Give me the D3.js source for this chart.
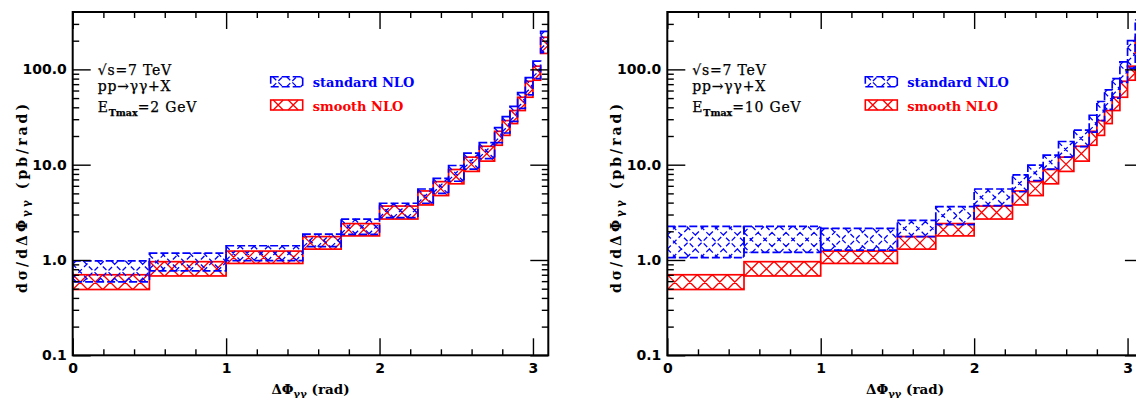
<!DOCTYPE html>
<html><head><meta charset="utf-8">
<script src="https://cdn.jsdelivr.net/npm/d3@7"></script>
<style>body{margin:0;background:#fff;overflow:hidden} svg{display:block}</style>
</head><body><svg id="c" width="1136" height="398"></svg>
<script>
// ---- data ----
const binEdges = [0, 0.5, 1.0, 1.5, 1.75, 2.0, 2.25, 2.35, 2.45, 2.55, 2.65, 2.75, 2.8, 2.85, 2.9, 2.95, 3.0, 3.05, 3.1];
// smooth NLO band (same in both panels)
const smoothLo = [0.49, 0.68, 0.92, 1.30, 1.79, 2.69, 3.78, 4.74, 6.3, 8.5, 10.9, 16, 20.3, 27, 37, 51, 77, 147];
const smoothHi = [0.70, 0.96, 1.24, 1.76, 2.41, 3.68, 5.3, 6.64, 8.9, 12, 15.6, 22.4, 29, 37, 51, 75, 108, 217];
// standard NLO band, E_Tmax = 2 GeV
const std2Lo = [0.59, 0.77, 0.985, 1.38, 1.86, 2.78, 3.94, 5.0, 6.7, 9.0, 11.6, 17, 21.5, 28.5, 39, 54, 80, 150];
const std2Hi = [0.98, 1.18, 1.41, 1.87, 2.69, 3.94, 5.56, 7.2, 9.8, 13.2, 17, 24.5, 32, 41, 57, 82, 122, 250];
// standard NLO band, E_Tmax = 10 GeV
const std10Lo = [1.06, 1.2, 1.27, 1.76, 2.35, 3.72, 5.2, 6.8, 9.0, 12, 15.5, 22, 29, 38, 50, 73, 103, 180];
const std10Hi = [2.25, 2.25, 2.15, 2.6, 3.63, 5.56, 7.8, 9.9, 12.6, 17.5, 23, 33, 46, 61, 80, 120, 200, 330];

const xTickValues = [0, 1, 2, 3];
const xMinorValues = d3.range(0, 3.11, 0.2).filter(v => Math.abs(v - Math.round(v)) > 1e-6);
const yTickValues = [0.1, 1, 10, 100];
const yTickLabels = ["0.1", "1.0", "10.0", "100.0"];
const legendLabels = ["standard NLO", "smooth NLO"];
const noteLines = ["\u221As=7 TeV", "pp\u2192\u03B3\u03B3+X"];
const etMaxValues = ["=2 GeV", "=10 GeV"];

// ---- layout ----
const svg = d3.select("#c");
const W = 475.6, TOP = 12, H = 343.3;
const RED = "#ff0000", BLUE = "#0000ff";
const x = d3.scaleLinear().domain([0, 3.1]).range([0, W]);
const y = d3.scaleLog().domain([0.1, 400]).range([H, 0]);
const yMinor = [];
[0.1, 1, 10, 100].forEach(d => { for (let k = 2; k <= 9; k++) { const v = k * d; if (v < 400) yMinor.push(v); } });

function hatch(x0, x1, y0, y1, p) {
  const h = y1 - y0; let d = "";
  if (h <= 0) return d;
  const n0 = Math.floor((-h - p) / p), n1 = Math.ceil((x1 - x0 + h + p) / p);
  const seg = (a, down) => {
    const t0 = Math.max(0, (x0 - a) / h), t1 = Math.min(1, (x1 - a) / h);
    if (t1 <= t0) return "";
    const ya = down ? y0 : y1, yb = down ? y1 : y0;
    const p0 = [a + t0 * h, ya + (yb - ya) * t0], p1 = [a + t1 * h, ya + (yb - ya) * t1];
    return `M${p0[0].toFixed(2)},${p0[1].toFixed(2)}L${p1[0].toFixed(2)},${p1[1].toFixed(2)}`;
  };
  for (let k = n0; k <= n1; k++) {
    const xc = x0 + p / 2 + k * p;
    d += seg(xc - h / 2, true) + seg(xc - h / 2, false);
  }
  return d;
}

function drawBand(g, lo, hi, color, dashed, period) {
  const bins = lo.map((v, i) => ({ x0: binEdges[i], x1: binEdges[i + 1], lo: v, hi: hi[i] }));
  const gg = g.append("g");
  bins.forEach(b => {
    const X0 = x(b.x0), X1 = x(b.x1), Y0 = y(b.hi), Y1 = y(b.lo);
    gg.append("path").attr("d", hatch(X0, X1, Y0, Y1, period))
      .attr("stroke", color).attr("stroke-width", 1.3).attr("fill", "none")
      .attr("stroke-dasharray", dashed ? "5,3" : null);
    gg.append("rect").attr("x", X0).attr("y", Y0).attr("width", X1 - X0).attr("height", Y1 - Y0)
      .attr("fill", "none").attr("stroke", color).attr("stroke-width", 1.7)
      .attr("stroke-dasharray", dashed ? "8,3" : null);
  });
}

const panels = [
  { left: 72.7, lo: std2Lo, hi: std2Hi, et: etMaxValues[0] },
  { left: 667.3, lo: std10Lo, hi: std10Hi, et: etMaxValues[1] }
];

panels.forEach((P, pi) => {
  const g = svg.append("g").attr("transform", `translate(${P.left},${TOP})`);
  const cid = "clip" + pi;
  g.append("clipPath").attr("id", cid).append("rect").attr("x", 0).attr("y", 0).attr("width", W).attr("height", H);
  const marks = g.append("g").attr("clip-path", `url(#${cid})`);
  drawBand(marks, smoothLo, smoothHi, RED, false, 15);
  drawBand(marks, P.lo, P.hi, BLUE, true, 14);

  const styleAxis = sel => { sel.select(".domain").remove(); sel.selectAll(".tick line").attr("stroke", "#000").attr("stroke-width", 1.4); };
  g.append("g").attr("transform", `translate(0,${H})`)
    .call(d3.axisBottom(x).tickValues(xTickValues).tickSize(-17).tickPadding(8).tickFormat(d3.format("d")))
    .call(styleAxis)
    .selectAll("text").attr("font-family", "DejaVu Sans").attr("font-weight", "bold").attr("font-size", 14).attr("fill", "#000");
  g.append("g").attr("transform", `translate(0,${H})`)
    .call(d3.axisBottom(x).tickValues(xMinorValues).tickSize(-6).tickFormat("")).call(styleAxis);
  g.append("g").call(d3.axisTop(x).tickValues(xTickValues).tickSize(-17).tickFormat("")).call(styleAxis);
  g.append("g").call(d3.axisTop(x).tickValues(xMinorValues).tickSize(-6).tickFormat("")).call(styleAxis);
  g.append("g")
    .call(d3.axisLeft(y).tickValues(yTickValues).tickSize(-18).tickPadding(6).tickFormat((d, i) => yTickLabels[i]))
    .call(styleAxis)
    .selectAll("text").attr("font-family", "DejaVu Sans").attr("font-weight", "bold").attr("font-size", 14).attr("fill", "#000");
  g.append("g").call(d3.axisLeft(y).tickValues(yMinor).tickSize(-6.5).tickFormat("")).call(styleAxis);
  g.append("g").attr("transform", `translate(${W},0)`)
    .call(d3.axisRight(y).tickValues(yTickValues).tickSize(-18).tickFormat("")).call(styleAxis);
  g.append("g").attr("transform", `translate(${W},0)`)
    .call(d3.axisRight(y).tickValues(yMinor).tickSize(-6.5).tickFormat("")).call(styleAxis);

  g.append("rect").attr("x", 0).attr("y", 0).attr("width", W).attr("height", H)
    .attr("fill", "none").attr("stroke", "#000").attr("stroke-width", 2);

  // notes
  const serif = "DejaVu Serif";
  const nt = g.append("g").attr("font-family", serif).attr("font-size", 14).attr("letter-spacing", 0.8)
    .attr("fill", "#000").attr("stroke", "#000").attr("stroke-width", 0.25);
  nt.append("text").attr("x", 25).attr("y", 63).text(noteLines[0]);
  nt.append("text").attr("x", 25).attr("y", 79).text(noteLines[1]);
  const et = nt.append("text").attr("x", 25).attr("y", 100);
  et.append("tspan").text("E");
  et.append("tspan").attr("dy", 4).attr("font-size", 9.5).attr("font-weight", "bold").attr("letter-spacing", 0).text("Tmax");
  et.append("tspan").attr("dy", -4).text(P.et);

  // legend
  const lg = g.append("g");
  const sw = [{ y0: 64.7, color: BLUE, dashed: true, p: 14 }, { y0: 88, color: RED, dashed: false, p: 15 }];
  sw.forEach((s, i) => {
    const X0 = 198, X1 = 230, Y0 = s.y0, Y1 = s.y0 + 10;
    lg.append("path").attr("d", hatch(X0, X1, Y0, Y1, s.p)).attr("stroke", s.color).attr("stroke-width", 1.3)
      .attr("fill", "none").attr("stroke-dasharray", s.dashed ? "5,3" : null);
    lg.append("rect").attr("x", X0).attr("y", Y0).attr("width", X1 - X0).attr("height", Y1 - Y0)
      .attr("fill", "none").attr("stroke", s.color).attr("stroke-width", 1.6).attr("stroke-dasharray", s.dashed ? "8,3" : null);
    lg.append("text").attr("x", 240).attr("y", Y1 + 0.5).attr("font-family", serif).attr("font-weight", "bold")
      .attr("font-size", 13).attr("fill", s.color).text(legendLabels[i]);
  });

  // axis titles
  const xt = g.append("text").attr("x", W / 2).attr("y", H + 39).attr("text-anchor", "middle")
    .attr("font-family", serif).attr("font-weight", "bold").attr("font-size", 13.5).attr("fill", "#000");
  xt.append("tspan").text("\u0394\u03A6");
  xt.append("tspan").attr("dy", 3).attr("font-size", 10).text("\u03B3\u03B3");
  xt.append("tspan").attr("dy", -3).text(" (rad)");

  const yt = svg.append("text").attr("transform", `translate(${P.left - 46},197) rotate(-90)`).attr("text-anchor", "middle")
    .attr("font-family", serif).attr("font-weight", "bold").attr("font-size", 14).attr("letter-spacing", 3).attr("fill", "#000");
  yt.append("tspan").text("d\u03C3/d\u0394\u03A6");
  yt.append("tspan").attr("dy", 3).attr("font-size", 10.5).text("\u03B3\u03B3");
  yt.append("tspan").attr("dy", -3).text(" (pb/rad)");
});
</script></body></html>
